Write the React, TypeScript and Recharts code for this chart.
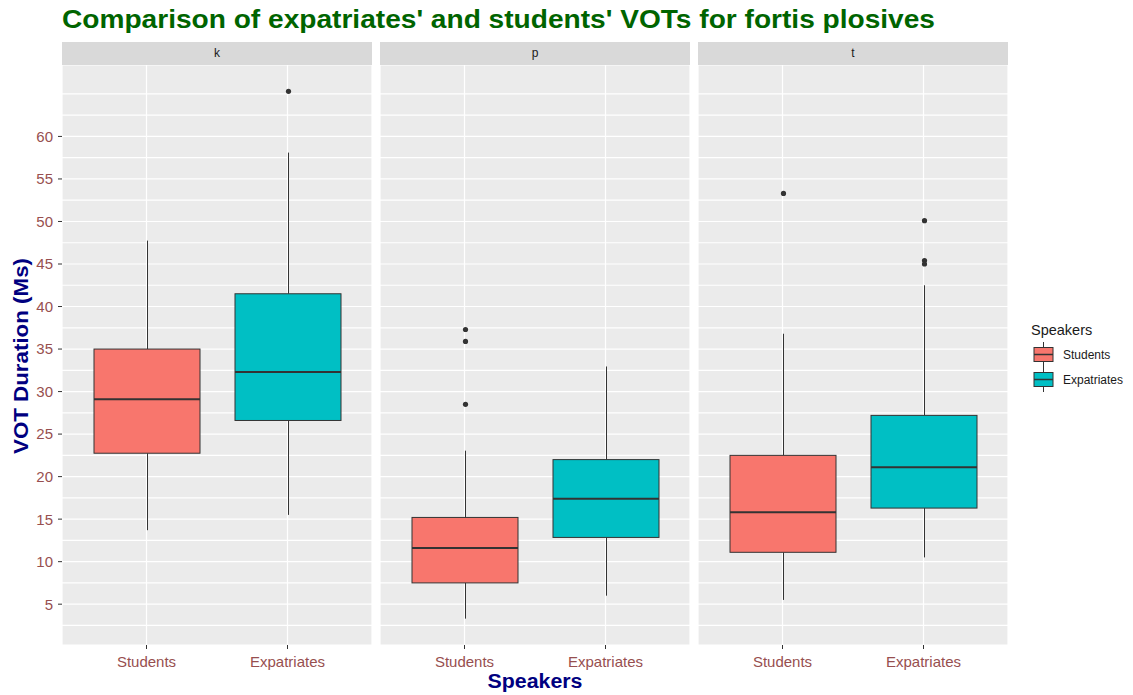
import { ComposedChart, Bar, XAxis, YAxis, CartesianGrid } from "recharts";

const speakers = ["Students", "Expatriates"];
const plosives = ["k", "p", "t"];
const speakerColors = ["#F8766D", "#00BFC4"];

// one row per plosive (k, p, t), each row [Students, Expatriates]
const whiskerLow = [[13.7, 15.5], [3.3, 6.0], [5.5, 10.5]];
const q1 = [[22.75, 26.6], [7.5, 12.85], [11.1, 16.3]];
const median = [[29.1, 32.3], [11.6, 17.4], [15.8, 21.1]];
const q3 = [[35.0, 41.5], [15.2, 22.0], [22.5, 27.2]];
const whiskerHigh = [[47.75, 58.1], [23.05, 32.95], [36.8, 42.5]];
const outliers = [
  [[], [65.3]],
  [[37.3, 35.9, 28.5], []],
  [[53.3], [50.1, 45.4, 45.0]],
];

const yLabels = [5, 10, 15, 20, 25, 30, 35, 40, 45, 50, 55, 60];
const gridTicks = [
  2.5, 5, 7.5, 10, 12.5, 15, 17.5, 20, 22.5, 25, 27.5, 30, 32.5,
  35, 37.5, 40, 42.5, 45, 47.5, 50, 52.5, 55, 57.5, 60, 62.5, 65,
];

// ggplot-style 5% expansion around the full data range
const allValues = [...whiskerLow.flat(), ...whiskerHigh.flat(), ...outliers.flat(2)];
const dataMin = Math.min(...allValues);
const dataMax = Math.max(...allValues);
const pad = (dataMax - dataMin) * 0.05;
const yDomain = [dataMin - pad, dataMax + pad];

const LABEL_COLOR = "#974F4F";
const FONT = "'Liberation Sans', Arial, sans-serif";
const PLOT_W = 310;
const PLOT_H = 580;
const X_AXIS_H = 35;
const Y_AXIS_W = 62;
const panelLefts = [62, 380, 698];

function panelData(p: number) {
  return speakers.map((name, s) => {
    const pts = outliers[p][s];
    const lo = Math.min(whiskerLow[p][s], ...pts);
    const hi = Math.max(whiskerHigh[p][s], ...pts);
    return {
      name,
      range: [lo, hi],
      fill: speakerColors[s],
      wLow: whiskerLow[p][s],
      q1: q1[p][s],
      med: median[p][s],
      q3: q3[p][s],
      wHigh: whiskerHigh[p][s],
      outliers: pts,
    };
  });
}

// the bar spans [lo, hi]; everything inside is placed on that same scale
function BoxShape(props: any) {
  const { x, y, width, height, payload } = props;
  const top = Math.min(y, y + height);
  const bottom = Math.max(y, y + height);
  const [vLo, vHi] = payload.range;
  const py = (v: number) => bottom - ((v - vLo) / (vHi - vLo)) * (bottom - top);
  const cx = Math.floor(x + width / 2) + 0.5;
  const stroke = "#333333";
  return (
    <g>
      <line x1={cx} x2={cx} y1={py(payload.wHigh)} y2={py(payload.q3)} stroke={stroke} strokeWidth={1} />
      <line x1={cx} x2={cx} y1={py(payload.q1)} y2={py(payload.wLow)} stroke={stroke} strokeWidth={1} />
      <rect
        x={x}
        y={py(payload.q3)}
        width={width}
        height={py(payload.q1) - py(payload.q3)}
        fill={payload.fill}
        stroke={stroke}
        strokeWidth={1}
      />
      <line x1={x} x2={x + width} y1={py(payload.med)} y2={py(payload.med)} stroke={stroke} strokeWidth={2} />
      {payload.outliers.map((v: number, i: number) => (
        <circle key={i} cx={cx} cy={py(v)} r={2.6} fill={stroke} />
      ))}
    </g>
  );
}

function YTick(props: any) {
  const { x, y, payload } = props;
  const v = payload.value;
  if (!yLabels.includes(v)) return <g />;
  return (
    <g>
      <line x1={x + 5} x2={x + 9} y1={y} y2={y} stroke="#333333" strokeWidth={1} />
      <text x={x} y={y} dy="0.36em" textAnchor="end" fill={LABEL_COLOR} fontSize={15} fontFamily={FONT}>
        {v}
      </text>
    </g>
  );
}

function Panel({ index }: { index: number }) {
  const showY = index === 0;
  const width = PLOT_W + (showY ? Y_AXIS_W : 0);
  return (
    <div style={{ position: "absolute", top: 65, left: panelLefts[index] - (showY ? Y_AXIS_W : 0) }}>
      <ComposedChart
        width={width}
        height={PLOT_H + X_AXIS_H}
        data={panelData(index)}
        margin={{ top: 0, right: 0, bottom: 0, left: 0 }}
      >
        <CartesianGrid fill="#EBEBEB" stroke="#FFFFFF" strokeWidth={1.2} />
        <XAxis
          dataKey="name"
          type="category"
          padding={{ left: 14, right: 14 }}
          height={X_AXIS_H}
          axisLine={false}
          tickLine={{ stroke: "#333333" }}
          tickSize={4}
          tickMargin={7}
          tick={{ fill: LABEL_COLOR, fontSize: 15, fontFamily: FONT }}
        />
        <YAxis
          type="number"
          domain={yDomain}
          ticks={gridTicks}
          interval={0}
          hide={!showY}
          width={Y_AXIS_W}
          axisLine={false}
          tickLine={false}
          tickSize={4}
          tickMargin={5}
          tick={<YTick />}
        />
        <Bar dataKey="range" barSize={106} shape={<BoxShape />} isAnimationActive={false} />
      </ComposedChart>
    </div>
  );
}

export default function App() {
  return (
    <div style={{ position: "absolute", top: 0, left: 0, width: 1133, height: 695, background: "#FFFFFF", fontFamily: FONT }}>
      {plosives.map((name, i) => (
        <div
          key={name}
          style={{
            position: "absolute",
            top: 42,
            left: panelLefts[i],
            width: PLOT_W,
            height: 23,
            lineHeight: "23px",
            background: "#D9D9D9",
            color: "#1A1A1A",
            fontSize: 12,
            textAlign: "center",
          }}
        >
          {name}
        </div>
      ))}
      {plosives.map((name, i) => (
        <Panel key={name} index={i} />
      ))}
      <svg width={1133} height={695} style={{ position: "absolute", top: 0, left: 0, pointerEvents: "none" }}>
        <text x={62} y={28} fill="#006400" fontSize={25} fontWeight="bold" fontFamily={FONT} textLength={873} lengthAdjust="spacingAndGlyphs">
          Comparison of expatriates' and students' VOTs for fortis plosives
        </text>
        <text
          transform="translate(28,356) rotate(-90)"
          textAnchor="middle"
          fill="#000080"
          fontSize={20}
          fontWeight="bold"
          fontFamily={FONT}
          textLength={196}
          lengthAdjust="spacingAndGlyphs"
        >
          VOT Duration (Ms)
        </text>
        <text x={535} y={688} textAnchor="middle" fill="#000080" fontSize={20} fontWeight="bold" fontFamily={FONT} textLength={95} lengthAdjust="spacingAndGlyphs">
          Speakers
        </text>
        <text x={1031} y={335} fill="#1A1A1A" fontSize={14.5} fontFamily={FONT}>
          Speakers
        </text>
        {speakers.map((name, i) => {
          const top = 342 + i * 25;
          return (
            <g key={name}>
              <line x1={1043.5} x2={1043.5} y1={top} y2={top + 25} stroke="#333333" strokeWidth={1} />
              <rect x={1034} y={top + 5.5} width={19} height={14} fill={speakerColors[i]} stroke="#333333" strokeWidth={1} />
              <line x1={1034} x2={1053} y1={top + 12.5} y2={top + 12.5} stroke="#333333" strokeWidth={1.5} />
              <text x={1063} y={top + 16.5} fill="#1A1A1A" fontSize={12} fontFamily={FONT}>
                {name}
              </text>
            </g>
          );
        })}
      </svg>
    </div>
  );
}
